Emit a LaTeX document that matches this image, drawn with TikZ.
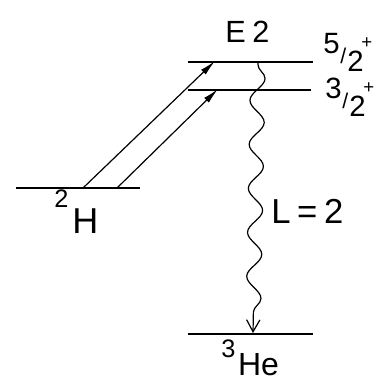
\documentclass[tikz,border=0pt]{standalone}
\usepackage{fontspec}
\setmainfont{Liberation Sans}
\usetikzlibrary{arrows.meta, positioning, decorations.pathmorphing}

% spin label: raised numerator, slash, 2 on the baseline, parity
\newcommand{\spin}[1]{\fontsize{22}{22}\selectfont\raisebox{14pt}{#1}%
  \hspace{0.6pt}\raisebox{6pt}{\fontsize{16}{16}\selectfont /}\hspace{0.8pt}2%
  \hspace{-1.8pt}\raisebox{17.7pt}{\fontsize{14}{14}\selectfont +}}

\begin{document}
\begin{tikzpicture}[
  x=0.75pt, y=-0.75pt,
  >=Latex,
  level/.style ={line width=1.7pt},
  thin level/.style={line width=1.1pt},
  excite/.style={->, line width=0.9pt, >={Latex[length=12pt, width=5pt]}},
  gamma/.style ={->, line width=0.9pt, >={Straight Barb[length=9pt, width=10pt]},
                 decorate, decoration={snake, amplitude=5.5pt, segment length=33pt,
                 pre length=2pt, post length=14pt}},
  lab/.style   ={inner sep=0pt, anchor=base west}
]
\useasboundingbox (0,0) rectangle (375,381);

% Levels
\coordinate (h-l)  at (16,188);  \coordinate (h-r)  at (140,188);
\coordinate (f-l)  at (188,62);  \coordinate (f-r)  at (313,62);
\coordinate (t-l)  at (188,90);  \coordinate (t-r)  at (311,90);
\coordinate (he-l) at (188,334); \coordinate (he-r) at (313,334);

\draw[level] (h-l) -- (h-r);
\draw[level, line width=2.1pt] (f-l) -- (f-r);
\draw[thin level] (t-l) -- (t-r);
\draw[level, line width=1.9pt] (he-l) -- (he-r);

% Arrows
\coordinate (a1) at (83,188);  \coordinate (b1) at (215,61);
\coordinate (a2) at (117,188); \coordinate (b2) at (218,89);
\draw[excite] (a1) -- (b1);
\draw[excite] (a2) -- (b2);

% Gamma
\coordinate (g-top) at (258,62);
\coordinate (g-bot) at (253,333);
\draw[gamma] (g-top) -- (g-bot);

% Labels
\node[lab, font=\fontsize{23}{23}\selectfont] (e2) at (225,43) {E\hspace{5pt}2};
\node[lab] (s5) at (323,72)  {\spin{5}};
\node[lab] (s3) at (325,117) {\spin{3}};
\node[lab, font=\fontsize{27}{27}\selectfont] (dh) at (54,233)
  {\raisebox{19.5pt}{\fontsize{19}{19}\selectfont 2}\hspace{3pt}H};
\node[lab, font=\fontsize{26}{26}\selectfont] (lab-l) at (271,223)
  {L\hspace{5pt}=\hspace{5pt}2};
\node[lab, font=\fontsize{24}{24}\selectfont] (he) at (221,375)
  {\raisebox{13.5pt}{\fontsize{19}{19}\selectfont 3}\hspace{2pt}He};
\end{tikzpicture}
\end{document}
